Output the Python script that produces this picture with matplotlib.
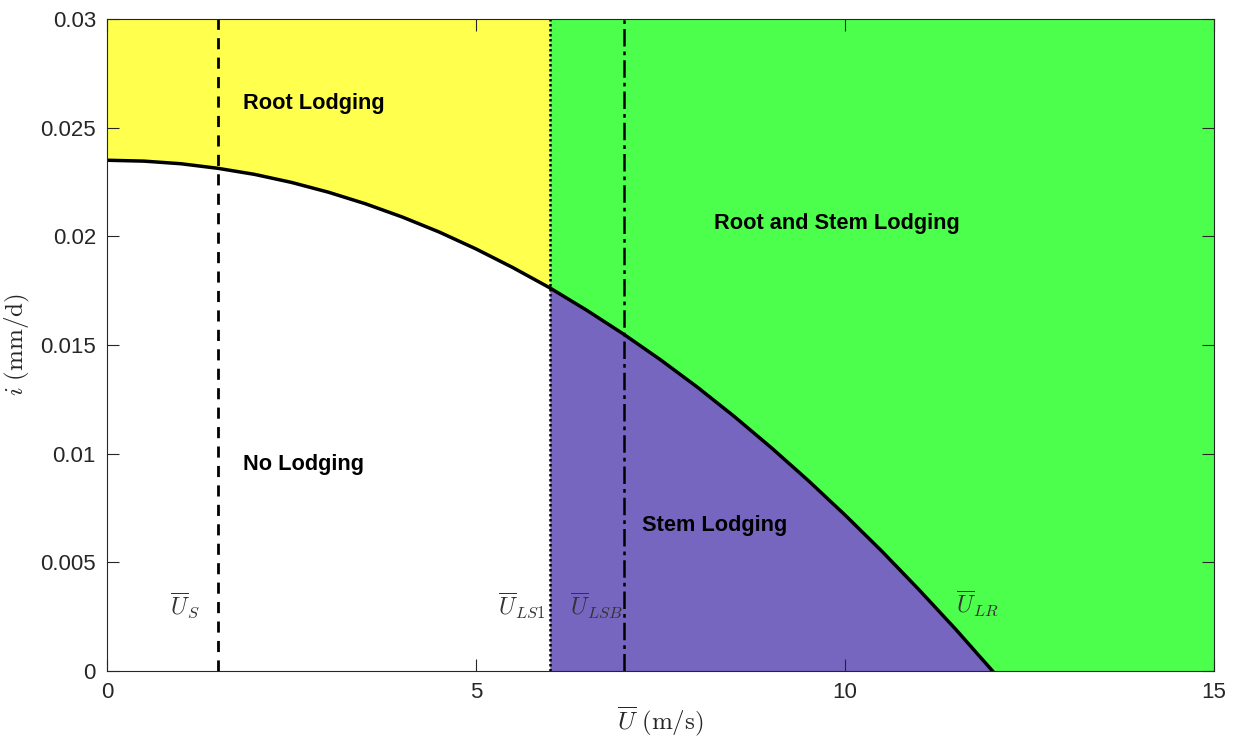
import matplotlib.pyplot as plt
import numpy as np

# values
wind_speed = [0, 0.5, 1, 1.5, 2, 2.5, 3, 3.5, 4, 4.5, 5, 5.5, 6,
              6.5, 7, 7.5, 8, 8.5, 9, 9.5, 10, 10.5, 11, 11.5, 12]
irrigation = [0.02350, 0.02346, 0.02334, 0.02313, 0.02285, 0.02248, 0.02203,
              0.02150, 0.02089, 0.02020, 0.01942, 0.01856, 0.01763, 0.01660,
              0.01550, 0.01432, 0.01306, 0.01171, 0.01028, 0.00877, 0.00718,
              0.00551, 0.00375, 0.00192, 0.0]

u_s = 1.5
u_ls1 = 6.0
u_lsb = 7.0
u_lr = 12.0
x_max = 15
y_max = 0.03

region_labels = ['Root Lodging', 'No Lodging', 'Root and Stem Lodging', 'Stem Lodging']
region_pos = [(1.84, 0.0261), (1.84, 0.0095), (8.22, 0.0206), (7.25, 0.0067)]

line_labels = [r'$\overline{U}_{S}$', r'$\overline{U}_{LS1}$',
               r'$\overline{U}_{LSB}$', r'$\overline{U}_{LR}$']
line_label_pos = [(0.85, 0.0030), (5.3, 0.0030), (6.27, 0.0030), (11.5, 0.0031)]

yellow = '#ffff4d'
green = '#4dff4d'
purple = '#7766c0'
axcol = '#262626'

plt.rcParams['mathtext.fontset'] = 'cm'
plt.rcParams['font.family'] = ['Liberation Sans', 'DejaVu Sans']

fig = plt.figure(figsize=(12.34, 7.47), dpi=100)
ax = fig.add_axes([0.0867, 0.1017, 0.8971, 0.8729])

u = np.array(wind_speed)
i = np.array(irrigation)
left = u <= u_ls1
right = u >= u_ls1

ax.fill_between(u[left], i[left], y_max, color=yellow, lw=0)
ax.fill_between(u[right], i[right], y_max, color=green, lw=0)
ax.fill_between([u_lr, x_max], [0, 0], [y_max, y_max], color=green, lw=0)
ax.fill_between(u[right], 0, i[right], color=purple, lw=0)

ax.plot(u, i, color='black', lw=2.5, solid_joinstyle='round')

ax.axvline(u_s, color='black', ls=(0, (4, 3)), lw=2)
ax.axvline(u_ls1, color='black', ls=(0, (1, 1)), lw=1.8)
ax.axvline(u_lsb, color='black', ls=(0, (7, 2, 1.5, 2)), lw=1.8)

for txt, (x, y) in zip(region_labels, region_pos):
    ax.text(x, y, txt, fontsize=15.7, fontweight='bold', va='center', ha='left')

for txt, (x, y) in zip(line_labels, line_label_pos):
    ax.text(x, y, txt, fontsize=17, va='center', ha='left', color='#333333')

ax.set_xlim(0, x_max)
ax.set_ylim(0, y_max)
ax.set_xticks([0, 5, 10, 15])
ax.set_yticks([0, 0.005, 0.01, 0.015, 0.02, 0.025, 0.03])
ax.set_yticklabels(['0', '0.005', '0.01', '0.015', '0.02', '0.025', '0.03'])
ax.tick_params(direction='in', length=8.5, width=0.8, top=True, right=True,
               labelsize=16, colors=axcol, pad=8)
for s in ax.spines.values():
    s.set_color(axcol)
    s.set_linewidth(0.8)

ax.set_xlabel(r'$\overline{U}\ \mathrm{(m/s)}$', fontsize=18, color=axcol, labelpad=1)
ax.set_ylabel(r'$i\ \mathrm{(mm/d)}$', fontsize=18, color=axcol, labelpad=6)

fig.savefig('out.png', dpi=100)
